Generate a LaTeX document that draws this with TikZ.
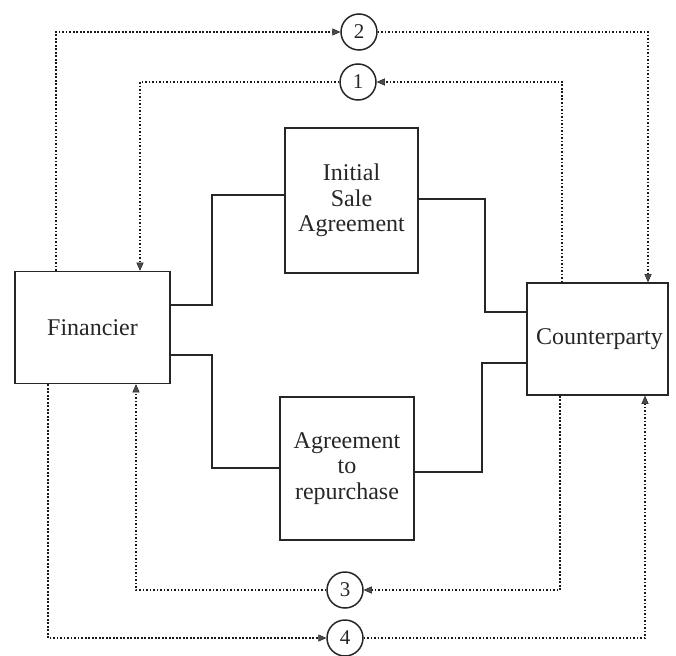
\documentclass[tikz,border=0pt]{standalone}
\usepackage{fontspec}
\setmainfont{Liberation Serif}
\usetikzlibrary{arrows.meta}
\begin{document}
\begin{tikzpicture}[x=1pt,y=-1pt,
  party/.style={draw=black!85,line width=1.6pt,inner sep=0pt,text=black!85,font=\fontsize{24}{26}\selectfont},
  deal/.style={draw=black!85,line width=1.6pt,inner sep=0pt,align=center,text=black!85,font=\fontsize{24}{25.5}\selectfont},
  num/.style={draw=black!85,circle,line width=1.5pt,minimum size=36pt,inner sep=0pt,text=black!85,font=\fontsize{21}{24}\selectfont},
  link/.style={draw=black!85,line width=1.6pt},
  flow/.style={draw=black!90,line width=2.3pt,dash pattern=on 1.7pt off 1.8pt,
    -{Triangle[length=8pt,width=7pt,fill=black!70,line width=0.4pt]}}]
\useasboundingbox (0,0) rectangle (676,655);

% parties
\node[party,minimum width=155pt,minimum height=112pt] (fin) at (92.5,327.5) {Financier};
\node[party,minimum width=141pt,minimum height=112pt] (cp) at (597.5,339) {\hspace{4pt}Counterparty};

% agreements
\node[deal,minimum width=133pt,minimum height=145pt] (isa) at (351.5,200.5) {Initial\\Sale\\Agreement};
\node[deal,minimum width=134pt,minimum height=143pt] (rep) at (347,468.5) {Agreement\\to\\repurchase};

% numbered steps
\node[num] (c2) at (359,32) {2};
\node[num] (c1) at (358,82) {1};
\node[num] (c3) at (345,590) {3};
\node[num] (c4) at (345,638) {4};

% solid links between parties and agreements
\draw[link] (fin.east |- 0,305) -- (212,305) |- (isa.west |- 0,195);
\draw[link] (isa.east |- 0,199) -- (485,199) |- (cp.west |- 0,312);
\draw[link] (fin.east |- 0,355) -- (212,355) |- (rep.west |- 0,468);
\draw[link] (rep.east |- 0,472) -- (482,472) |- (cp.west |- 0,363);

% dotted flows
\path[flow] (fin.north -| 56,0) |- (c2.west);
\path[flow] (c2.east) -| (cp.north -| 648,0);

\path[flow] (cp.north -| 562,0) |- (c1.east);
\path[flow] (c1.west) -| (fin.north -| 140,0);

\path[flow] (cp.south -| 560,0) |- (c3.east);
\path[flow] (c3.west) -| (fin.south -| 136,0);

\path[flow] (fin.south -| 48,0) |- (c4.west);
\path[flow] (c4.east) -| (cp.south -| 645,0);
\end{tikzpicture}
\end{document}
